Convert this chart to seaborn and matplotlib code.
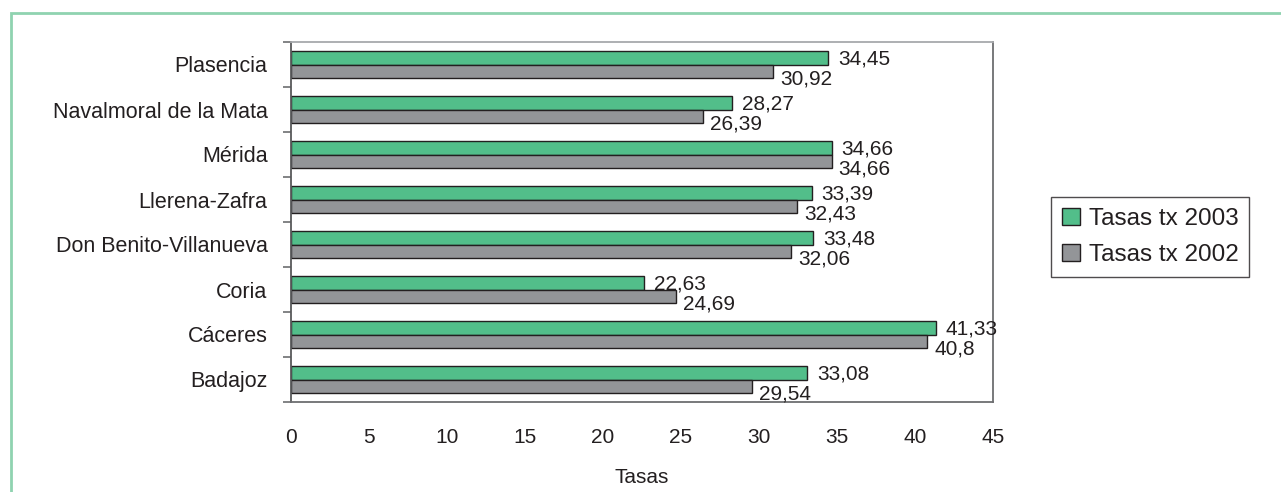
import matplotlib
matplotlib.use("Agg")
import matplotlib.pyplot as plt
from matplotlib.patches import Rectangle
from matplotlib.ticker import FixedLocator, MultipleLocator
import seaborn as sns
import pandas as pd

# Data
categories = ["Plasencia", "Navalmoral de la Mata", "Mérida", "Llerena-Zafra",
              "Don Benito-Villanueva", "Coria", "Cáceres", "Badajoz"]
tasas_2003 = [34.45, 28.27, 34.66, 33.39, 33.48, 22.63, 41.33, 33.08]
tasas_2002 = [30.92, 26.39, 34.66, 32.43, 32.06, 24.69, 40.80, 29.54]
series_names = ["Tasas tx 2003", "Tasas tx 2002"]
x_ticks = [0, 5, 10, 15, 20, 25, 30, 35, 40, 45]

df = pd.DataFrame({
    "Zona": categories * 2,
    "Tasas": tasas_2003 + tasas_2002,
    "Serie": [series_names[0]] * len(categories) + [series_names[1]] * len(categories),
})

sns.set_theme(style="white")
plt.rcParams["font.family"] = ["Liberation Sans", "DejaVu Sans"]
text_color = "#231f20"
fs = 15

fig = plt.figure(figsize=(12.81, 4.92), dpi=100)
ax = fig.add_axes([291 / 1281, 1 - 402 / 492, (993 - 291) / 1281, (402 - 42) / 492])

palette = {series_names[0]: "#52be8a", series_names[1]: "#939598"}
sns.barplot(data=df, y="Zona", x="Tasas", hue="Serie", order=categories,
            hue_order=series_names, palette=palette, orient="h", width=0.6,
            edgecolor="#231f20", linewidth=1.0, saturation=1, ax=ax, legend=True)

ax.set_xlim(0, 45)
ax.set_ylim(len(categories) - 0.5, -0.5)
ax.xaxis.set_major_locator(FixedLocator(x_ticks))
ax.set_xticklabels([str(t) for t in x_ticks], fontsize=fs, color=text_color)
ax.tick_params(axis="x", direction="out", length=6, width=1.2, color="#6d6e71", pad=13)

# category labels on the major ticks, tick marks on the boundaries
ax.set_yticks(range(len(categories)))
ax.set_yticklabels(categories, fontsize=15.5, color=text_color)
ax.tick_params(axis="y", which="major", length=0, pad=17)
ax.yaxis.set_minor_locator(MultipleLocator(1, offset=0.5))
ax.tick_params(axis="y", which="minor", direction="out", length=6, width=1.2,
               color="#6d6e71", left=True)

ax.set_xlabel("Tasas", fontsize=fs, color=text_color, labelpad=15)
ax.set_ylabel("")

for side, col in [("left", "#58595b"), ("bottom", "#6d6e71"),
                  ("top", "#a7a9ac"), ("right", "#6d6e71")]:
    ax.spines[side].set_visible(True)
    ax.spines[side].set_color(col)
    ax.spines[side].set_linewidth(1.3)

# value labels beside each bar
label_shift = [(7, -1.0), (5, -5.5)]
for container, (dx, dy) in zip(ax.containers, label_shift):
    for patch in container:
        val = patch.get_width()
        label = ("%g" % round(val, 2)).replace(".", ",")
        ax.annotate(label, (patch.get_x() + val, patch.get_y() + patch.get_height() / 2),
                    xytext=(dx, dy), textcoords="offset points",
                    ha="left", va="center", fontsize=fs, color=text_color)

leg = ax.legend(loc="center left", bbox_to_anchor=(1051 / 1281, 1 - 237 / 492),
                bbox_transform=fig.transFigure, fontsize=17.5, frameon=True,
                fancybox=False, edgecolor="#231f20", handlelength=0.75,
                handleheight=0.7, handletextpad=0.35, labelspacing=0.6,
                borderpad=0.45, borderaxespad=0, labelcolor=text_color)
leg.get_frame().set_linewidth(1.0)

# light green frame around the chart
fig.add_artist(Rectangle((11 / 1281, -0.2), 1.2, 1.2 - 13 / 492,
                         transform=fig.transFigure, fill=False,
                         edgecolor="#8fd3b0", linewidth=2.0))

fig.savefig("out.png", dpi=100)
